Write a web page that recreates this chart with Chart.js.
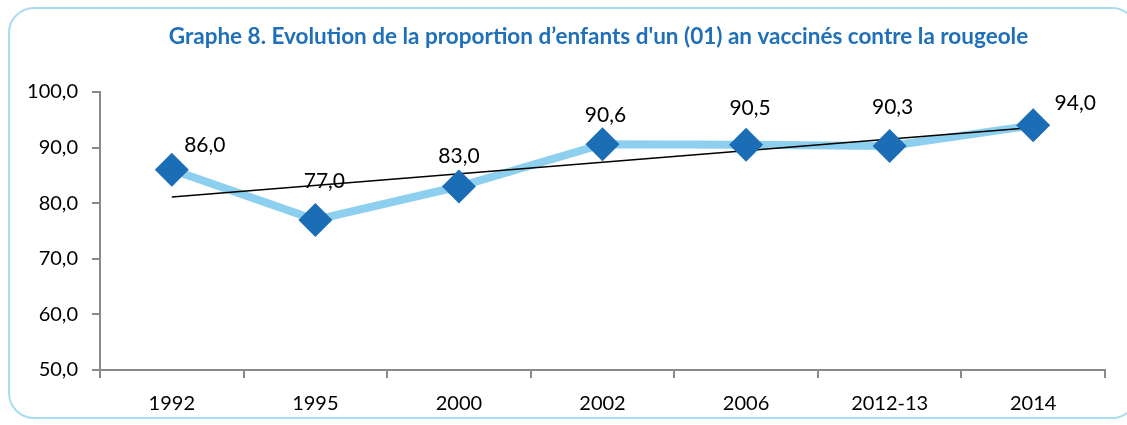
<!DOCTYPE html>
<html>
<head>
<meta charset="utf-8">
<script src="https://cdn.jsdelivr.net/npm/chart.js@4/dist/chart.umd.min.js"></script>
<style>
  html, body { margin: 0; padding: 0; background: #fff; }
  #wrap { position: relative; width: 1127px; height: 425px; overflow: hidden; }
  #frame {
    position: absolute; left: 8px; top: 7px; width: 1130px; height: 412px;
    border: 2px solid #a9dcf2; border-radius: 26px; box-sizing: border-box;
  }
  canvas { position: absolute; left: 0; top: 0; }
</style>
</head>
<body>
<div id="wrap">
  <div id="frame"></div>
  <canvas id="chart" width="1127" height="425"></canvas>
</div>
<script>
// --- données ---
const categories = ["1992", "1995", "2000", "2002", "2006", "2012-13", "2014"];
const vaccinated = [86.0, 77.0, 83.0, 90.6, 90.5, 90.3, 94.0];
// droite de tendance (linéaire), extrémités
const trendLine = [81.1, null, null, null, null, null, 93.6];
const yTicks = [50, 60, 70, 80, 90, 100];

const TITLE = "Graphe 8. Evolution de la proportion d\u2019enfants d'un (01) an vaccinés contre la rougeole";
const FONT = "Lato, 'Open Sans', sans-serif";

// décalage des étiquettes de valeur (px) par rapport au point
const labelOffsets = [
  [33, -25], [9, -39], [0, -30], [3, -29], [4, -37], [3, -39], [42, -22]
];

const fmt = (v) => v.toFixed(1).replace(".", ",");

// titre centré au-dessus de la zone de tracé (comme dans Excel)
const plotTitle = {
  id: "plotTitle",
  afterDraw(chart) {
    const ctx = chart.ctx;
    const a = chart.chartArea;
    ctx.save();
    ctx.font = "bold 22.5px " + FONT;
    ctx.fillStyle = "#1f70b8";
    ctx.textAlign = "center";
    ctx.textBaseline = "middle";
    ctx.fillText(TITLE, (a.left + a.right) / 2 - 4, 37);
    ctx.restore();
  },
};

const valueLabels = {
  id: "valueLabels",
  afterDatasetsDraw(chart) {
    const meta = chart.getDatasetMeta(0);
    const ctx = chart.ctx;
    ctx.save();
    ctx.font = "21px " + FONT;
    ctx.fillStyle = "#000";
    ctx.textAlign = "center";
    ctx.textBaseline = "middle";
    meta.data.forEach((pt, i) => {
      const [dx, dy] = labelOffsets[i];
      ctx.fillText(fmt(vaccinated[i]), pt.x + dx, pt.y + dy);
    });
    ctx.restore();
  },
};

new Chart(document.getElementById("chart"), {
  type: "line",
  data: {
    labels: categories,
    datasets: [
      {
        // marqueurs
        data: vaccinated,
        showLine: false,
        pointStyle: "rectRot",
        pointRadius: 17,
        pointBackgroundColor: "#1b6db5",
        pointBorderColor: "#1b6db5",
        pointBorderWidth: 0,
        order: 0,
      },
      {
        // tendance
        data: trendLine,
        spanGaps: true,
        borderColor: "#000",
        borderWidth: 1.5,
        pointRadius: 0,
        order: 1,
      },
      {
        // ligne
        data: vaccinated,
        borderColor: "#8dcfee",
        borderWidth: 8,
        pointRadius: 0,
        order: 2,
      },
    ],
  },
  options: {
    responsive: false,
    animation: false,
    layout: { padding: { left: 0, right: 22, top: 92, bottom: 0 } },
    plugins: {
      legend: { display: false },
      tooltip: { enabled: false },
      title: { display: false },
    },
    scales: {
      x: {
        offset: true,
        grid: {
          offset: true,
          drawOnChartArea: false,
          drawTicks: true,
          tickLength: 8,
          color: "#8a8a8a",
          lineWidth: 2,
        },
        border: { color: "#8a8a8a", width: 2 },
        ticks: {
          color: "#000",
          font: { family: FONT, size: 20 },
          padding: 14,
          maxRotation: 0,
        },
        afterFit(scale) { scale.height = 55; },
      },
      y: {
        min: 50,
        max: 100,
        afterBuildTicks(scale) { scale.ticks = yTicks.map((v) => ({ value: v })); },
        grid: {
          drawOnChartArea: false,
          drawTicks: true,
          tickLength: 8,
          color: "#8a8a8a",
          lineWidth: 2,
        },
        border: { color: "#8a8a8a", width: 2 },
        ticks: {
          color: "#000",
          font: { family: FONT, size: 20 },
          padding: 14,
          callback: (v) => fmt(v),
        },
        afterFit(scale) { scale.width = 100; },
      },
    },
  },
  plugins: [valueLabels, plotTitle],
});
</script>
</body>
</html>
